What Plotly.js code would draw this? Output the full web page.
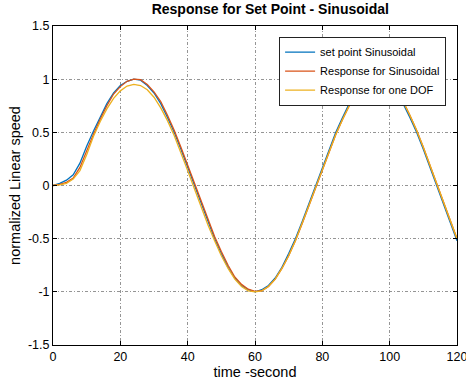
<!DOCTYPE html>
<html><head><meta charset="utf-8">
<script src="https://cdn.plot.ly/plotly-3.0.1.min.js"></script>
<style>html,body{margin:0;padding:0;background:#fff}#plot{width:466px;height:383px}</style>
</head><body><div id="plot"></div>
<script>
var time = [0,2,4,6,8,10,12,14,16,18,20,22,24,26,28,30,32,34,36,38,40,42,44,46,48,50,52,54,56,58,60,62,64,66,68,70,72,74,76,78,80,82,84,86,88,90,92,94,96,98,100,102,104,106,108,110,112,114,116,118,120];
var setPoint = [0,0.02,0.05,0.10,0.21,0.37,0.51,0.64,0.77,0.87,0.94,0.98,1.00,0.99,0.94,0.87,0.77,0.64,0.50,0.34,0.17,0.00,-0.17,-0.34,-0.50,-0.64,-0.77,-0.87,-0.94,-0.98,-1.00,-0.98,-0.94,-0.87,-0.77,-0.64,-0.50,-0.34,-0.17,0.00,0.17,0.34,0.50,0.64,0.77,0.87,0.94,0.98,1.00,0.98,0.94,0.87,0.77,0.64,0.50,0.34,0.17,0.00,-0.17,-0.34,-0.52];
var responseSin = [0,0.01,0.03,0.07,0.17,0.33,0.48,0.62,0.75,0.86,0.93,0.98,1.00,0.995,0.95,0.88,0.79,0.66,0.52,0.36,0.19,0.02,-0.15,-0.32,-0.48,-0.62,-0.75,-0.86,-0.93,-0.975,-0.995,-0.99,-0.95,-0.88,-0.78,-0.66,-0.52,-0.36,-0.19,-0.02,0.15,0.32,0.48,0.62,0.75,0.86,0.93,0.975,0.995,0.99,0.95,0.88,0.79,0.66,0.52,0.36,0.19,0.02,-0.15,-0.32,-0.50];
var responseOneDOF = [0,0.005,0.02,0.06,0.14,0.29,0.46,0.60,0.72,0.82,0.89,0.935,0.95,0.94,0.90,0.83,0.73,0.61,0.47,0.31,0.14,-0.03,-0.20,-0.37,-0.52,-0.66,-0.78,-0.88,-0.95,-0.99,-1.00,-0.99,-0.95,-0.88,-0.78,-0.66,-0.52,-0.36,-0.19,-0.02,0.15,0.32,0.48,0.62,0.75,0.86,0.93,0.975,0.995,0.99,0.95,0.88,0.79,0.66,0.52,0.36,0.19,0.02,-0.15,-0.32,-0.50];
var seriesNames = ['set point Sinusoidal','Response for Sinusoidal','Response for one DOF'];
var xTicks = [0,20,40,60,80,100,120];
var yTicks = [-1.5,-1,-0.5,0,0.5,1,1.5];
var yTickText = ['-1.5','-1','-0.5','0','0.5','1','1.5'];

var colors = ['#0072BD','#D95319','#EDB120'];
var ys = [setPoint, responseSin, responseOneDOF];
var traces = ys.map(function(y,i){
  return {x: time, y: y, type:'scatter', mode:'lines', name: seriesNames[i],
          line:{color: colors[i], width: 1.3}};
});
var font = {family:'Liberation Sans, Arial, sans-serif', color:'#000'};
var axisCommon = {
  showline:true, mirror:'ticks', linecolor:'#000', linewidth:1,
  ticks:'inside', ticklen:4, tickcolor:'#000',
  showgrid:true, gridcolor:'#7a7a7a', griddash:'3px,2px,1px,2px', gridwidth:0.8,
  zeroline:false, ticklabeloverflow:'allow',
  tickfont:{family:font.family, size:12.5, color:'#000'}
};
var layout = {
  width:466, height:383,
  margin:{l:53, r:9, t:26, b:38},
  paper_bgcolor:'#fff', plot_bgcolor:'#fff',
  font:font,
  showlegend:true,
  title:{text:'<b>Response for Set Point - Sinusoidal</b>', font:{family:font.family, size:14, color:'#000'}, x:0.58, xanchor:'center', y:0.99, yanchor:'top'},
  xaxis: Object.assign({}, axisCommon, {range:[0,120], tickvals:xTicks, ticktext:xTicks.map(String),
    title:{text:'time -second', font:{family:font.family, size:14.5, color:'#000'}, standoff:2}}),
  yaxis: Object.assign({}, axisCommon, {range:[-1.5,1.5], tickvals:yTicks, ticktext:yTickText,
    title:{text:'normalized Linear speed', font:{family:font.family, size:14.5, color:'#000'}, standoff:3}}),
  legend:{x:0.973, xanchor:'right', y:0.967, yanchor:'top', bgcolor:'#fff', bordercolor:'#222', borderwidth:1,
    font:{family:font.family, size:11, color:'#000'}, tracegroupgap:0, itemwidth:30}
};
Plotly.newPlot('plot', traces, layout, {displayModeBar:false, staticPlot:true});
</script></body></html>
